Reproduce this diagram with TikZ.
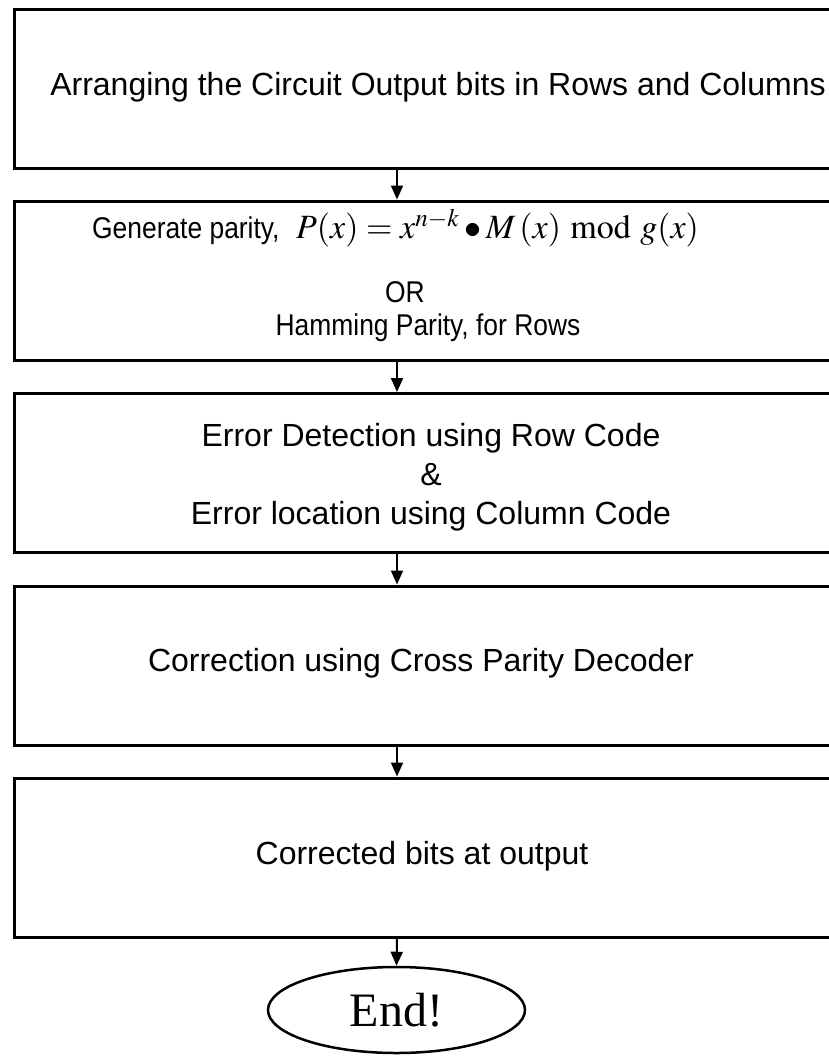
\documentclass[tikz,border=0pt]{standalone}
\usepackage{mathptmx}
\usepackage[no-math]{fontspec}
\setmainfont{Liberation Sans}
\newfontfamily\timesfont{Liberation Serif}
\usetikzlibrary{arrows.meta,shapes.geometric}

% box 2 is set a little narrower in the reference
\newcommand{\narrow}[1]{\scalebox{0.88}[1]{#1}}

\begin{document}
\begin{tikzpicture}[x=1pt,y=-1pt,
    box/.style={draw, line width=3pt, minimum width=830pt, minimum height=159pt,
                inner sep=0pt, anchor=north west},
    txt/.style={font=\fontsize{32}{39}\selectfont, align=center, inner sep=0pt},
    small/.style={font=\fontsize{30}{36}\selectfont, inner sep=0pt},
    flow/.style={line width=2pt, -{Triangle[width=12pt,length=14pt]}},
    endnode/.style={draw, ellipse, line width=2.5pt, minimum width=257pt,
                    minimum height=86pt, inner sep=0pt, font=\timesfont\fontsize{48}{48}\selectfont}]

    \useasboundingbox (0,0) rectangle (829,1061);
    \clip (0,0) rectangle (829,1061);

    % draw the boxes
    \node[box] (arrange) at (13,7.5) {};
    \node[box] (parity) at (13,199.5) {};
    \node[box] (detect) at (13,392) {};
    \node[box] (correct) at (13,584.5) {};
    \node[box] (output) at (13,776.5) {};
    \node[endnode] (finish) at (396.5,1010) {End!};

    % the texts
    \node[txt] (arrangetxt) at (438,87) {Arranging the Circuit Output bits in Rows and Columns};
    \node[small, anchor=west] (paritytxt) at (92,228)
        {\narrow{Generate parity,}\ \ {\fontsize{34}{36}\selectfont$P(x)=x^{n-k}\bullet M\,(x)\bmod g(x)$}};
    \node[small] (ortxt) at (405,292) {\narrow{OR}};
    \node[small] (hammingtxt) at (428,328) {\narrow{Hamming Parity, for Rows}};
    \node[txt] (detecttxt) at (431,477) {Error Detection using Row Code\\ \&\\ Error location using Column Code};
    \node[txt] (correcttxt) at (421,663) {Correction using Cross Parity Decoder};
    \node[txt] (outputtxt) at (422,856) {Corrected bits at output};

    % the arrows run down at one x
    \coordinate (ax) at (397,0);
    \draw[flow] (arrange.south -| ax) -- (parity.north -| ax);
    \draw[flow] (parity.south -| ax) -- (detect.north -| ax);
    \draw[flow] (detect.south -| ax) -- (correct.north -| ax);
    \draw[flow] (correct.south -| ax) -- (output.north -| ax);
    \draw[flow] (output.south -| ax) -- (finish.north);

\end{tikzpicture}
\end{document}
